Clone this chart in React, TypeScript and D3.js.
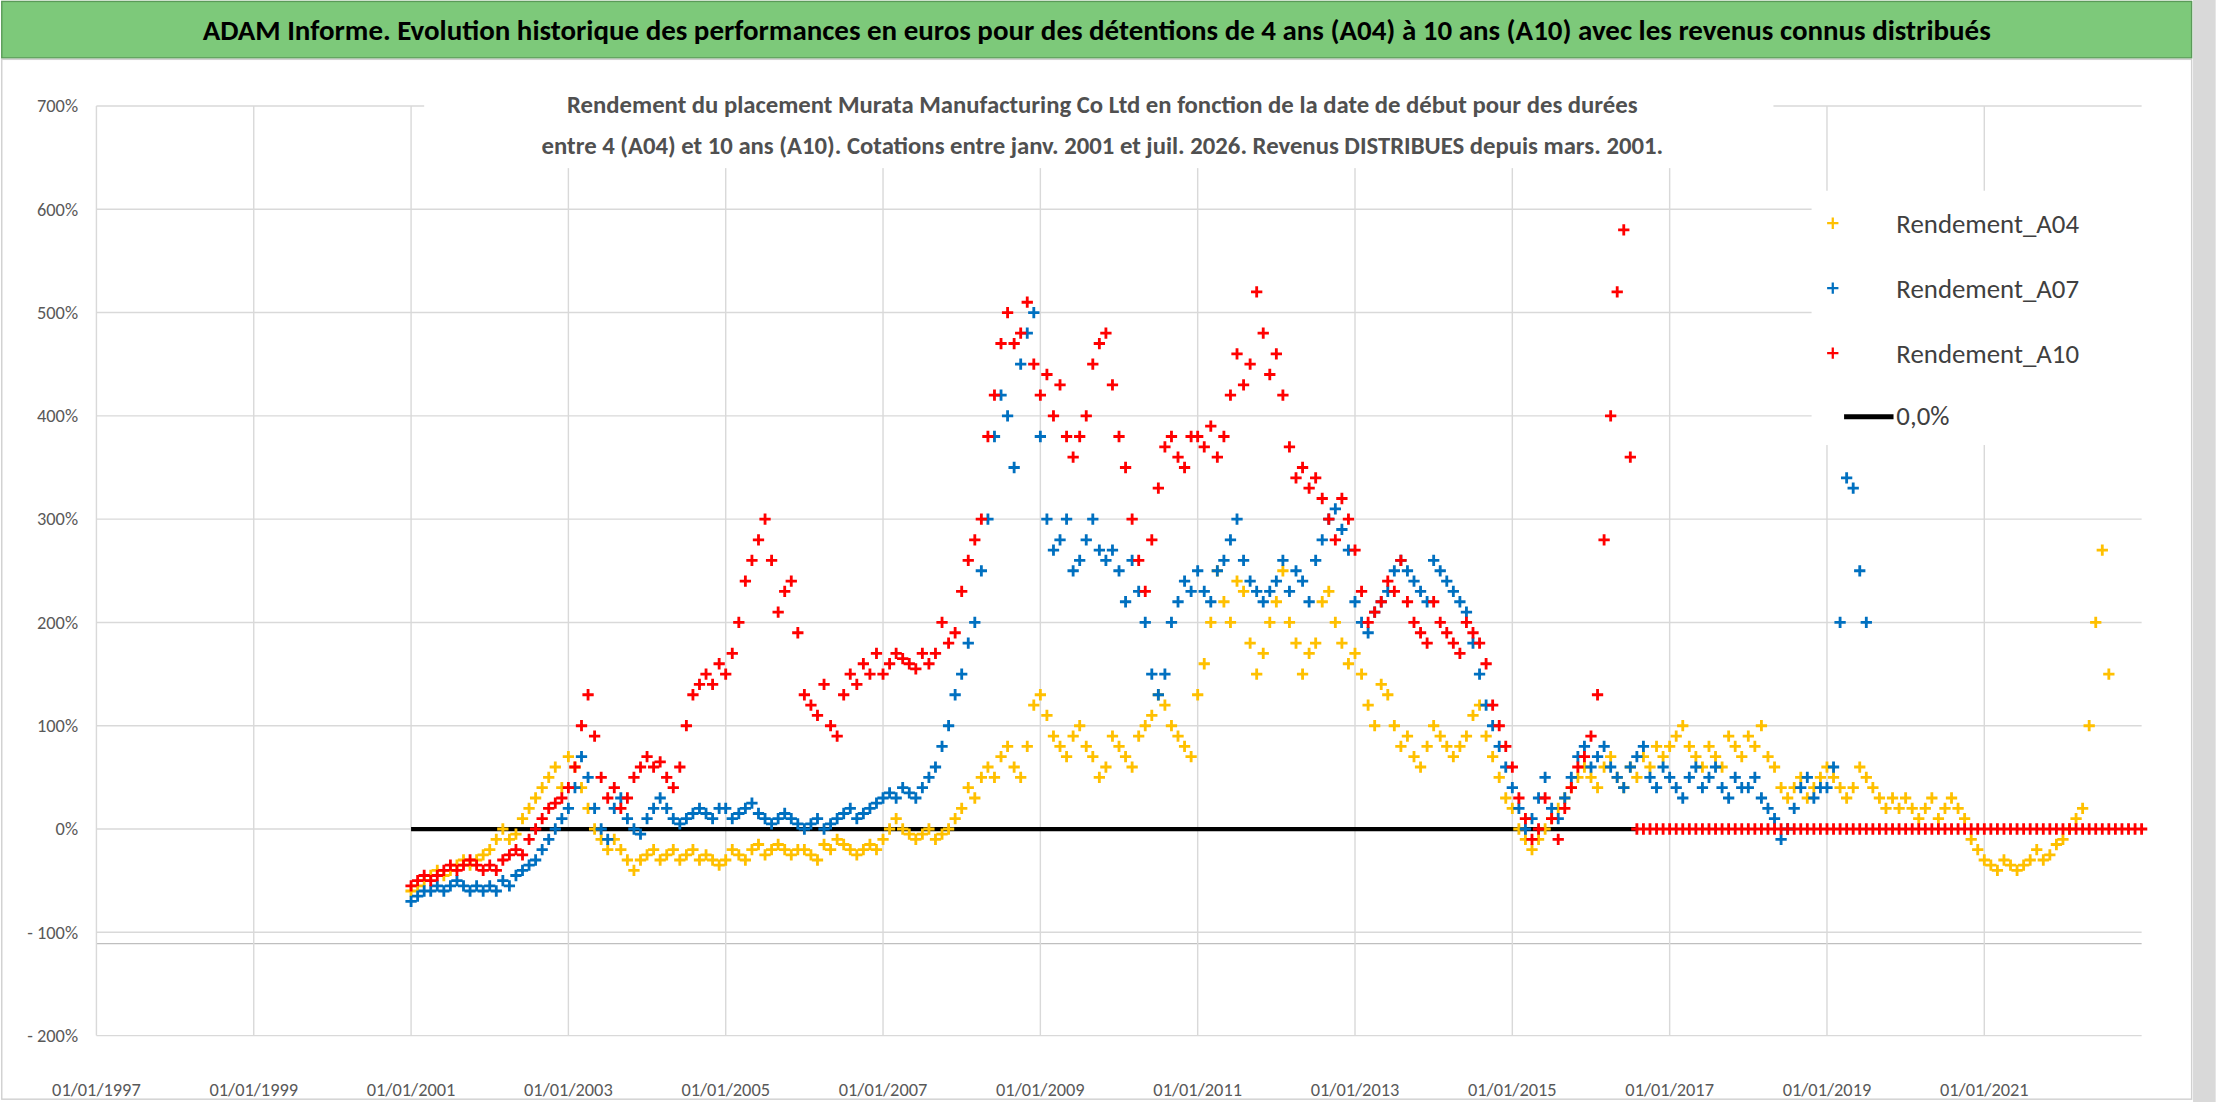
import * as d3 from "d3";

// monthly readings, first value = Jan 2001
const a04 = [
  -60,-55,-50,-45,-40,-45,-40,-35,-30,-35,-30,-25,
  -20,-10,0,-10,-5,10,20,30,40,50,60,40,
  70,60,40,20,0,-10,-20,-10,-20,-30,-40,-30,
  -25,-20,-30,-25,-20,-30,-25,-20,-30,-25,-30,-35,
  -30,-20,-25,-30,-20,-15,-25,-20,-15,-20,-25,-20,
  -20,-25,-30,-15,-20,-10,-15,-20,-25,-20,-15,-20,
  -10,0,10,0,-5,-10,-5,0,-10,-5,0,10,
  20,40,30,50,60,50,70,80,60,50,80,120,
  130,110,90,80,70,90,100,80,70,50,60,90,
  80,70,60,90,100,110,130,120,100,90,80,70,
  130,160,200,250,220,200,240,230,180,150,170,200,
  220,250,200,180,150,170,180,220,230,200,180,160,
  170,150,120,100,140,130,100,80,90,70,60,80,
  100,90,80,70,80,90,110,120,90,70,50,30,
  20,0,-10,-20,-10,0,10,20,30,40,50,60,
  50,40,60,70,50,40,60,50,70,60,80,70,
  80,90,100,80,70,60,80,70,60,90,80,70,
  90,80,100,70,60,40,30,40,50,30,40,50,
  60,50,40,30,40,60,50,40,30,20,30,20,
  30,20,10,20,30,10,20,30,20,10,-10,-20,
  -30,-35,-40,-30,-35,-40,-35,-30,-20,-30,-25,-15,
  -10,0,10,20,100,200,270,150,
];
const a07 = [
  -70,-65,-60,-60,-55,-60,-55,-50,-55,-60,-55,-60,
  -55,-60,-50,-55,-45,-40,-35,-30,-20,-10,0,10,
  20,40,70,50,20,0,-10,20,30,10,0,-5,
  10,20,30,20,10,5,10,15,20,15,10,20,
  20,10,15,20,25,15,10,5,10,15,10,5,
  0,5,10,0,5,10,15,20,10,15,20,25,
  30,35,30,40,35,30,40,50,60,80,100,130,
  150,180,200,250,300,380,420,400,350,450,480,500,
  380,300,270,280,300,250,260,280,300,270,260,270,
  250,220,260,230,200,150,130,150,200,220,240,230,
  250,230,220,250,260,280,300,260,240,230,220,230,
  240,260,230,250,240,220,260,280,300,310,290,270,
  220,200,190,210,220,230,250,260,250,240,230,220,
  260,250,240,230,220,210,180,150,120,100,80,60,
  40,20,0,10,30,50,20,10,30,50,70,80,
  60,70,80,60,50,40,60,70,80,50,40,60,
  50,40,30,50,60,40,50,60,40,30,50,40,
  40,50,30,20,10,-10,0,20,40,50,30,40,
  40,60,200,340,330,250,200,
];
const a10 = [
  -55,-50,-45,-50,-45,-40,-35,-40,-35,-30,-35,-40,
  -35,-40,-30,-25,-20,-25,-10,0,10,20,25,30,
  40,60,100,130,90,50,30,40,20,30,50,60,
  70,60,65,50,40,60,100,130,140,150,140,160,
  150,170,200,240,260,280,300,260,210,230,240,190,
  130,120,110,140,100,90,130,150,140,160,150,170,
  150,160,170,165,160,155,170,160,170,200,180,190,
  230,260,280,300,380,420,470,500,470,480,510,450,
  420,440,400,430,380,360,380,400,450,470,480,430,
  380,350,300,260,230,280,330,370,380,360,350,380,
  380,370,390,360,380,420,460,430,450,520,480,440,
  460,420,370,340,350,330,340,320,300,280,320,300,
  270,230,200,210,220,240,230,260,220,200,190,180,
  220,200,190,180,170,200,190,180,160,120,100,80,
  60,30,10,-10,0,30,10,-10,20,40,60,70,
  90,130,280,400,520,580,360,
  0,0,0,0,0,0,0,0,0,0,0,0,0,0,0,0,0,0,0,0,0,0,0,0,0,0,0,0,0,0,0,0,0,0,0,0,0,0,0,0,0,0,0,0,0,0,0,0,0,0,0,0,0,0,0,0,0,0,0,0,0,0,0,0,0,0,0,0,0,0,0,0,0,0,0,0,0,0,
];
const yTicks = [-200, -100, 0, 100, 200, 300, 400, 500, 600, 700];
const xTickYears = [1997, 1999, 2001, 2003, 2005, 2007, 2009, 2011, 2013, 2015, 2017, 2019, 2021];
const series = [
  { name: "Rendement_A04", color: "#FFC000", values: a04 },
  { name: "Rendement_A07", color: "#0070C0", values: a07 },
  { name: "Rendement_A10", color: "#FF0000", values: a10 },
];

const W = 1568, H = 780;
const x = d3.scaleLinear().domain([1997, 2023]).range([68, 1515.6]);
const y = d3.scaleLinear().domain([-200, 700]).range([733, 75]);
const yLabel = (v: number) => (v < 0 ? `- ${-v}%` : `${v}%`);
const F = "Calibri, Carlito, 'Liberation Sans', Arial, sans-serif";

export default function App() {
  const plus = (cx: number, cy: number) => `M${cx - 4},${cy}H${cx + 4}M${cx},${cy - 4}V${cy + 4}`;
  return (
    <svg viewBox={`0 0 ${W} ${H}`} width={2216} height={1102}
      style={{ position: "fixed", left: 0, top: 0, background: "#fff", fontFamily: F }}>
      <rect x={1552} y={0} width={16} height={H} fill="#d9d9d9" />
      <rect x={1} y={1} width={1550} height={40} fill="#7DC97A" stroke="#5a9a58" />
      <text x={776} y={28} textAnchor="middle" fontSize={20.5} fontWeight="bold" fill="#000">
        ADAM Informe. Evolution historique des performances en euros pour des détentions de 4 ans (A04) à 10 ans (A10) avec les revenus connus distribués
      </text>
      <rect x={1} y={42} width={1550} height={736} fill="none" stroke="#d0d0d0" />
      {yTicks.map((t) => (
        <g key={t}>
          <line x1={x(1997)} x2={x(2023)} y1={y(t)} y2={y(t)} stroke="#d9d9d9" />
          <text x={55} y={y(t) + 4.5} textAnchor="end" fontSize={13} fill="#595959">{yLabel(t)}</text>
        </g>
      ))}
      <line x1={x(1997)} x2={x(2023)} y1={y(-100) + 8} y2={y(-100) + 8} stroke="#bfbfbf" />
      {xTickYears.map((t) => (
        <g key={t}>
          <line x1={x(t)} x2={x(t)} y1={y(700)} y2={y(-200)} stroke="#d9d9d9" />
          <text x={x(t)} y={776} textAnchor="middle" fontSize={13} fill="#595959">{`01/01/${t}`}</text>
        </g>
      ))}
      <rect x={300} y={57} width={955} height={62} fill="#fff" />
      <text x={780} y={80} textAnchor="middle" fontSize={17.5} fontWeight="bold" fill="#505050">
        Rendement du placement Murata Manufacturing Co Ltd en fonction de la date de début pour des durées
      </text>
      <text x={780} y={109} textAnchor="middle" fontSize={17.5} fontWeight="bold" fill="#505050">
        entre 4 (A04) et 10 ans (A10). Cotations entre janv. 2001 et juil. 2026. Revenus DISTRIBUES depuis mars. 2001.
      </text>
      <line x1={x(2001)} x2={x(2016.6)} y1={y(0)} y2={y(0)} stroke="#000" strokeWidth={3} />
      {series.map((s) => (
        <path key={s.name} fill="none" stroke={s.color} strokeWidth={2}
          d={s.values.map((v, i) => plus(x(2001 + i / 12), y(v))).join("")} />
      ))}
      <rect x={1282} y={135} width={262} height={180} fill="#fff" />
      {series.map((s, i) => (
        <g key={s.name}>
          <path d={plus(1297, 158 + i * 46)} stroke={s.color} strokeWidth={1.6} />
          <text x={1342} y={165 + i * 46} fontSize={19} fill="#404040">{s.name}</text>
        </g>
      ))}
      <line x1={1305} x2={1340} y1={295} y2={295} stroke="#000" strokeWidth={3.5} />
      <text x={1342} y={301} fontSize={19} fill="#404040">0,0%</text>
    </svg>
  );
}
